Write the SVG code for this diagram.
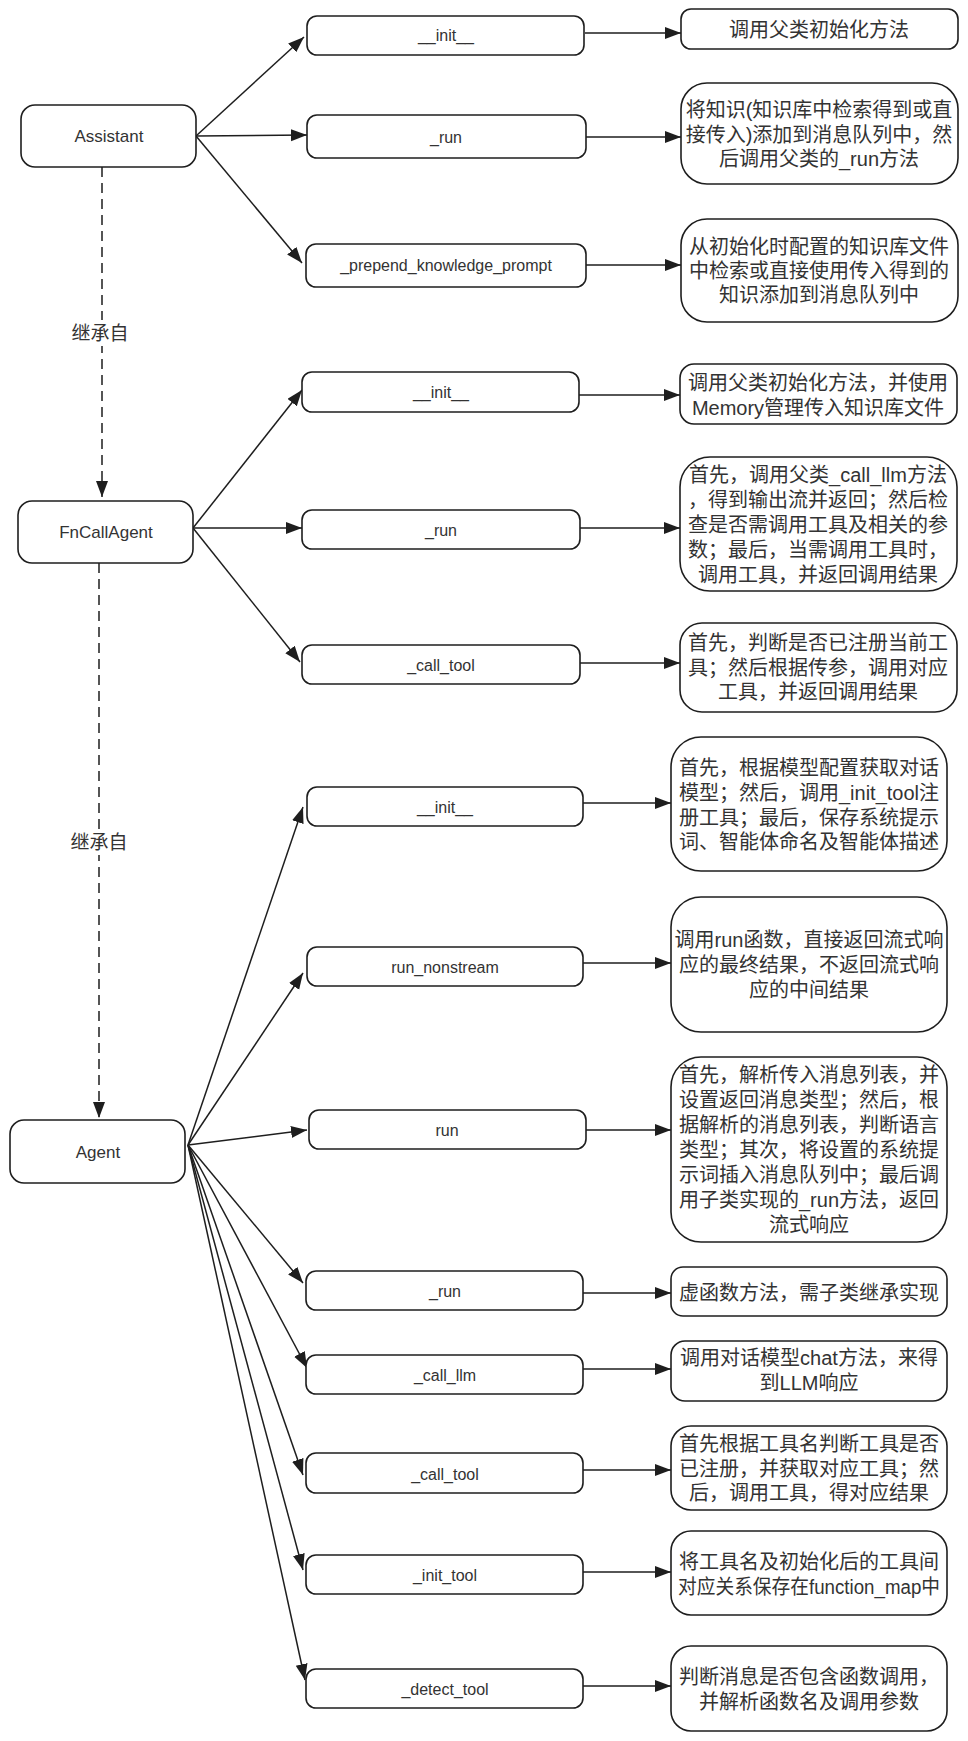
<svg xmlns="http://www.w3.org/2000/svg" width="968" height="1741" viewBox="0 0 968 1741">
<defs>
<marker id="ah" markerUnits="userSpaceOnUse" markerWidth="18" markerHeight="14" refX="16" refY="6" orient="auto">
<path d="M0,0 L16,6 L0,12 z" fill="#1e1e1e"/>
</marker>
<style>
.box{fill:#fff;stroke:#1e1e1e;stroke-width:1.6}
.ln{fill:none;stroke:#1e1e1e;stroke-width:1.5;marker-end:url(#ah)}
.dash{fill:none;stroke:#1e1e1e;stroke-width:1.5;stroke-dasharray:10 6;marker-end:url(#ah)}
.t{font-family:'Liberation Sans','Noto Sans CJK SC',sans-serif;fill:#333;text-anchor:middle;dominant-baseline:central}
.m{font-size:16px}
.n{font-size:17px}
.d{font-size:20px}
</style>
</defs>
<rect width="968" height="1741" fill="#fff"/>

<g id="connectors">
<line class="dash" x1="102" y1="167" x2="102" y2="497"/>
<line class="dash" x1="99" y1="563" x2="99" y2="1118"/>
<line class="ln" x1="196" y1="136" x2="304" y2="37"/>
<line class="ln" x1="196" y1="136" x2="307" y2="135"/>
<line class="ln" x1="196" y1="136" x2="302" y2="263"/>
<line class="ln" x1="585" y1="33" x2="681" y2="33"/>
<line class="ln" x1="586" y1="137" x2="681" y2="137"/>
<line class="ln" x1="586" y1="265" x2="681" y2="265"/>
<line class="ln" x1="193" y1="528" x2="302" y2="390"/>
<line class="ln" x1="193" y1="528" x2="302" y2="528"/>
<line class="ln" x1="193" y1="528" x2="300" y2="662"/>
<line class="ln" x1="579" y1="395" x2="680" y2="395"/>
<line class="ln" x1="580" y1="528" x2="680" y2="528"/>
<line class="ln" x1="580" y1="663" x2="680" y2="663"/>
<line class="ln" x1="188" y1="1145" x2="303" y2="807"/>
<line class="ln" x1="188" y1="1145" x2="303" y2="973"/>
<line class="ln" x1="188" y1="1145" x2="307" y2="1130"/>
<line class="ln" x1="188" y1="1145" x2="303" y2="1283"/>
<line class="ln" x1="188" y1="1145" x2="307" y2="1368"/>
<line class="ln" x1="188" y1="1145" x2="303" y2="1475"/>
<line class="ln" x1="188" y1="1145" x2="303" y2="1570"/>
<line class="ln" x1="188" y1="1145" x2="305" y2="1680"/>
<line class="ln" x1="583" y1="803" x2="671" y2="803"/>
<line class="ln" x1="583" y1="963" x2="671" y2="963"/>
<line class="ln" x1="586" y1="1130" x2="671" y2="1130"/>
<line class="ln" x1="583" y1="1293" x2="671" y2="1293"/>
<line class="ln" x1="583" y1="1369" x2="671" y2="1369"/>
<line class="ln" x1="583" y1="1470" x2="671" y2="1470"/>
<line class="ln" x1="583" y1="1572" x2="671" y2="1572"/>
<line class="ln" x1="583" y1="1686" x2="671" y2="1686"/>
<g id="label-inherit-1"><rect x="70" y="320" width="62" height="26" fill="#fff"/><text class="t d" x="100" y="333" style="font-size:19px">继承自</text></g>
<g id="label-inherit-2"><rect x="68" y="829" width="62" height="26" fill="#fff"/><text class="t d" x="99" y="842" style="font-size:19px">继承自</text></g>
</g>

<g id="assistant"><rect class="box" x="21" y="105" width="175" height="62" rx="14"/><text class="t n" x="109" y="136">Assistant</text></g>
<g id="fncallagent"><rect class="box" x="18" y="501" width="175" height="62" rx="14"/><text class="t n" x="106" y="532">FnCallAgent</text></g>
<g id="agent"><rect class="box" x="10" y="1120" width="175" height="63" rx="14"/><text class="t n" x="98" y="1152">Agent</text></g>

<g id="a-init"><rect class="box" x="307" y="16" width="277" height="39" rx="10"/><text class="t m" x="446" y="35">__init__</text></g>
<g id="a-run"><rect class="box" x="307" y="115" width="279" height="43" rx="10"/><text class="t m" x="446" y="137">_run</text></g>
<g id="a-prepend"><rect class="box" x="306" y="244" width="280" height="43" rx="10"/><text class="t m" x="446" y="265">_prepend_knowledge_prompt</text></g>

<g id="a-init-desc"><rect class="box" x="681" y="9" width="277" height="40" rx="10"/><text class="t d" x="819" y="30">调用父类初始化方法</text></g>
<g id="a-run-desc"><rect class="box" x="681" y="83" width="277" height="101" rx="26"/><text class="t d" x="819" y="110">将知识(知识库中检索得到或直</text><text class="t d" x="819" y="135">接传入)添加到消息队列中，然</text><text class="t d" x="819" y="159">后调用父类的_run方法</text></g>
<g id="a-prepend-desc"><rect class="box" x="681" y="219" width="277" height="103" rx="26"/><text class="t d" x="819" y="247">从初始化时配置的知识库文件</text><text class="t d" x="819" y="271">中检索或直接使用传入得到的</text><text class="t d" x="819" y="295">知识添加到消息队列中</text></g>

<g id="f-init"><rect class="box" x="302" y="372" width="277" height="40" rx="10"/><text class="t m" x="441" y="392">__init__</text></g>
<g id="f-run"><rect class="box" x="302" y="510" width="278" height="39" rx="10"/><text class="t m" x="441" y="530">_run</text></g>
<g id="f-calltool"><rect class="box" x="302" y="645" width="278" height="39" rx="10"/><text class="t m" x="441" y="665">_call_tool</text></g>

<g id="f-init-desc"><rect class="box" x="680" y="364" width="277" height="60" rx="14"/><text class="t d" x="818" y="383">调用父类初始化方法，并使用</text><text class="t d" x="818" y="408">Memory管理传入知识库文件</text></g>
<g id="f-run-desc"><rect class="box" x="680" y="457" width="277" height="134" rx="30"/><text class="t d" x="818" y="475">首先，调用父类_call_llm方法</text><text class="t d" x="818" y="500">，得到输出流并返回；然后检</text><text class="t d" x="818" y="525">查是否需调用工具及相关的参</text><text class="t d" x="818" y="550">数；最后，当需调用工具时，</text><text class="t d" x="818" y="575">调用工具，并返回调用结果</text></g>
<g id="f-calltool-desc"><rect class="box" x="680" y="623" width="277" height="89" rx="22"/><text class="t d" x="818" y="643">首先，判断是否已注册当前工</text><text class="t d" x="818" y="668">具；然后根据传参，调用对应</text><text class="t d" x="818" y="692">工具，并返回调用结果</text></g>

<g id="g-init"><rect class="box" x="307" y="787" width="276" height="39" rx="10"/><text class="t m" x="445" y="807">__init__</text></g>
<g id="g-runnonstream"><rect class="box" x="307" y="947" width="276" height="39" rx="10"/><text class="t m" x="445" y="967">run_nonstream</text></g>
<g id="g-run"><rect class="box" x="309" y="1110" width="277" height="39" rx="10"/><text class="t m" x="447" y="1130">run</text></g>
<g id="g-_run"><rect class="box" x="306" y="1271" width="277" height="39" rx="10"/><text class="t m" x="445" y="1291">_run</text></g>
<g id="g-callllm"><rect class="box" x="306" y="1355" width="277" height="39" rx="10"/><text class="t m" x="445" y="1375">_call_llm</text></g>
<g id="g-calltool"><rect class="box" x="306" y="1453" width="277" height="40" rx="10"/><text class="t m" x="445" y="1474">_call_tool</text></g>
<g id="g-inittool"><rect class="box" x="306" y="1555" width="277" height="39" rx="10"/><text class="t m" x="445" y="1575">_init_tool</text></g>
<g id="g-detecttool"><rect class="box" x="306" y="1669" width="277" height="39" rx="10"/><text class="t m" x="445" y="1689">_detect_tool</text></g>

<g id="g-init-desc"><rect class="box" x="671" y="737" width="276" height="134" rx="30"/><text class="t d" x="809" y="768">首先，根据模型配置获取对话</text><text class="t d" x="809" y="793">模型；然后，调用_init_tool注</text><text class="t d" x="809" y="818">册工具；最后，保存系统提示</text><text class="t d" x="809" y="842">词、智能体命名及智能体描述</text></g>
<g id="g-runnonstream-desc"><rect class="box" x="671" y="897" width="276" height="135" rx="30"/><text class="t d" x="809" y="940">调用run函数，直接返回流式响</text><text class="t d" x="809" y="965">应的最终结果，不返回流式响</text><text class="t d" x="809" y="990">应的中间结果</text></g>
<g id="g-run-desc"><rect class="box" x="671" y="1057" width="276" height="185" rx="30"/><text class="t d" x="809" y="1075">首先，解析传入消息列表，并</text><text class="t d" x="809" y="1100">设置返回消息类型；然后，根</text><text class="t d" x="809" y="1125">据解析的消息列表，判断语言</text><text class="t d" x="809" y="1150">类型；其次，将设置的系统提</text><text class="t d" x="809" y="1175">示词插入消息队列中；最后调</text><text class="t d" x="809" y="1200">用子类实现的_run方法，返回</text><text class="t d" x="809" y="1225">流式响应</text></g>
<g id="g-_run-desc"><rect class="box" x="671" y="1267" width="276" height="49" rx="12"/><text class="t d" x="809" y="1293">虚函数方法，需子类继承实现</text></g>
<g id="g-callllm-desc"><rect class="box" x="671" y="1341" width="276" height="60" rx="14"/><text class="t d" x="809" y="1358">调用对话模型chat方法，来得</text><text class="t d" x="809" y="1383">到LLM响应</text></g>
<g id="g-calltool-desc"><rect class="box" x="671" y="1426" width="276" height="84" rx="20"/><text class="t d" x="809" y="1444">首先根据工具名判断工具是否</text><text class="t d" x="809" y="1469">已注册，并获取对应工具；然</text><text class="t d" x="809" y="1493">后，调用工具，得对应结果</text></g>
<g id="g-inittool-desc"><rect class="box" x="671" y="1531" width="276" height="84" rx="20"/><text class="t d" x="809" y="1562">将工具名及初始化后的工具间</text><text class="t d" x="809" y="1587" textLength="262" lengthAdjust="spacingAndGlyphs">对应关系保存在function_map中</text></g>
<g id="g-detecttool-desc"><rect class="box" x="671" y="1646" width="276" height="85" rx="20"/><text class="t d" x="809" y="1677">判断消息是否包含函数调用，</text><text class="t d" x="809" y="1702">并解析函数名及调用参数</text></g>
</svg>
